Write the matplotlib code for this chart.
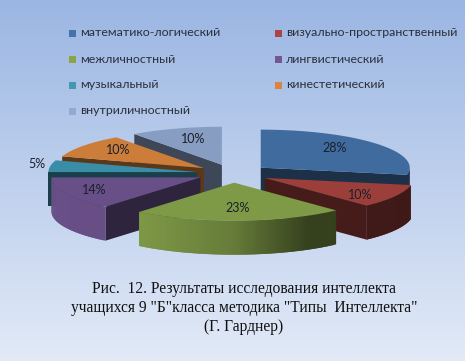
# 3D looking exploded pie, drawn by hand since matplotlib has no pie with depth
import numpy as np
import matplotlib
matplotlib.use('Agg')
import matplotlib.pyplot as plt
from matplotlib.patches import Polygon, Rectangle

categories = ['математико-логический', 'визуально-пространственный', 'межличностный',
              'лингвистический', 'музыкальный', 'кинестетический', 'внутриличностный']
values = [28, 10, 23, 14, 5, 10, 10]
caption = ['Рис.  12. Результаты исследования интеллекта',
           'учащихся 9 "Б"класса методика "Типы  Интеллекта"',
           '(Г. Гарднер)']

colors = ['#3f6b9e', '#9c3f3a', '#7f9a47', '#694f87', '#398da6', '#cc7d39', '#879dc2']
legend_colors = ['#4573aa', '#aa4541', '#89a546', '#71588f', '#4198af', '#db843d', '#93a9cf']

# layout in pixels
W, H = 465, 361
cx, cy = 233, 173.5
rx, ry = 149, 38
depth = 34
explode = 36
label_frac = [0.64, 0.73, 0.66, 0.79, 1.09, 0.71, 0.62]
label_dy = [-4, 4, 0, 0, -2, -2, -3]


def shade(col, f):
    return tuple(c * f for c in matplotlib.colors.to_rgb(col))


def rim(x0, y0, a):
    # angle a is clockwise from 12 o'clock, in degrees
    t = np.radians(a)
    return x0 + rx * np.sin(t), y0 - ry * np.cos(t)


fig = plt.figure(figsize=(W / 100, H / 100), dpi=100)
ax = fig.add_axes([0, 0, 1, 1])
ax.set_xlim(0, W)
ax.set_ylim(H, 0)
ax.axis('off')

# background
top_c = np.array([155, 182, 227]) / 255
bot_c = np.array([226, 234, 247]) / 255
grad = np.linspace(0, 1, 256)[:, None, None]
ax.imshow(top_c + (bot_c - top_c) * grad, extent=[0, W, H, 0], aspect='auto', zorder=0)
ax.set_xlim(0, W)
ax.set_ylim(H, 0)

# slices
edges = np.cumsum([0] + values) * 3.6
slices = []
for i in range(len(values)):
    a, b = edges[i], edges[i + 1]
    m = np.radians((a + b) / 2)
    x0 = cx + explode * np.sin(m)
    y0 = cy - explode * ry / rx * np.cos(m)
    slices.append((y0, i, a, b, x0))

z = 2
for y0, i, a, b, x0 in sorted(slices, key=lambda s: (s[0] if s[1] != 2 else 999)):
    col = colors[i]
    # flat faces, only the ones turned to the viewer
    for ang, seen in ((a, np.sin(np.radians(a)) < -1e-6), (b, np.sin(np.radians(b)) > 1e-6)):
        if seen:
            px, py = rim(x0, y0, ang)
            pts = [(x0, y0), (px, py), (px, py + depth), (x0, y0 + depth)]
            ax.add_patch(Polygon(pts, closed=True, fc=shade(col, 0.45), ec='none', zorder=z))
            z += 1
    # outer side in thin strips, lit from the left, each strip runs under the next so no seams
    lo, hi = max(a, 90), min(b, 270)
    if hi > lo:
        steps = np.linspace(lo, hi, int(hi - lo) + 2)
        for k in range(len(steps) - 1):
            s0 = steps[k]
            s1 = steps[min(k + 2, len(steps) - 1)]
            sn = np.sin(np.radians((s0 + steps[k + 1]) / 2))
            f = np.interp(sn, [-1, -0.6, 0, 0.5, 1], [1.0, 0.98, 0.8, 0.42, 0.4])
            p0, p1 = rim(x0, y0, s0), rim(x0, y0, s1)
            pts = [p0, p1, (p1[0], p1[1] + depth), (p0[0], p0[1] + depth)]
            # order so later strips sit on top of the overlap on the near side
            ax.add_patch(Polygon(pts, closed=True, fc=shade(col, f), ec='none', zorder=z + k * 1e-3))
        z += 1
    # top
    arc = np.linspace(a, b, 80)
    pts = [(x0, y0)] + [rim(x0, y0, q) for q in arc]
    ax.add_patch(Polygon(pts, closed=True, fc=col, ec='none', zorder=z))
    z += 1

# percent labels
for y0, i, a, b, x0 in slices:
    lx, ly = rim(x0, y0, (a + b) / 2)
    f = label_frac[i]
    ax.text(x0 + (lx - x0) * f, y0 + (ly - y0) * f + label_dy[i], '%d%%' % values[i],
            family=['Lato', 'Noto Sans'], fontsize=9, color='#1a1f2b', ha='center', va='center', zorder=100)

# legend, filled row by row
leg_x = [69, 275]
leg_y = [33, 59.5, 85, 111]
for i, name in enumerate(categories):
    x = leg_x[i % 2]
    y = leg_y[i // 2]
    ax.add_patch(Rectangle((x, y - 3.5), 7, 7, fc=legend_colors[i], ec='none', zorder=5))
    ax.text(x + 11, y, name, family=['Lato', 'Noto Sans'], fontsize=8.9, color='#2a2f3a',
            ha='left', va='center', zorder=5)

for line, y in zip(caption, [289, 308.5, 327]):
    ax.text(244, y, line, family='Liberation Serif', fontsize=11.2, color='#111111',
            ha='center', va='center', zorder=5)

fig.savefig('out.png', dpi=100)
